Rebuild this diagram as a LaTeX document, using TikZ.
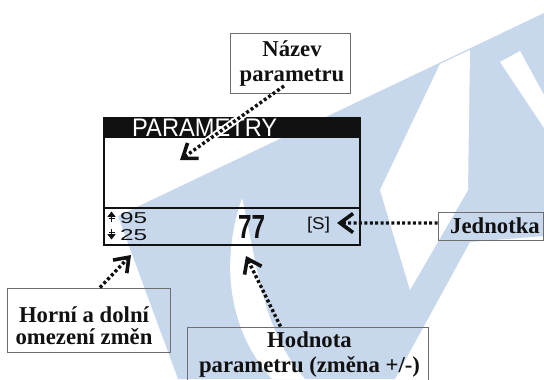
\documentclass[tikz,border=0pt]{standalone}
\usepackage{fontspec}
\usepackage{graphicx}
\setmainfont{Liberation Serif}
\newfontfamily\lcdfont{Liberation Sans}
\usetikzlibrary{arrows.meta}
\definecolor{wm}{HTML}{C8D8EC}
\definecolor{frame}{HTML}{6E6E6E}
\definecolor{ink}{HTML}{111111}
\newcommand\lsu{\rule[-5bp]{0pt}{21bp}}
\tikzset{
  boxf/.style={draw=frame, line width=0.9bp, inner sep=0pt},
  lbl/.style={align=center, inner sep=0pt, text=ink,
     font=\fontsize{22.7bp}{25bp}\selectfont\bfseries},
  ptr/.style={draw=ink, line width=3.4bp, dash pattern=on 3bp off 2.4bp,
     -{Straight Barb[length=13bp,width=19bp,line width=3.6bp]}},
  halo/.style={draw=white, line width=7bp},
  lcdtxt/.style={inner sep=0pt, text=ink, font=\lcdfont},
  icon/.style={fill=ink, draw=ink, line width=0.6bp},
  iconline/.style={draw=ink, line width=1.3bp},
}
\begin{document}
\begin{tikzpicture}[x=1bp,y=-1bp]
\useasboundingbox (0,0) rectangle (544,379);
% watermark
\fill[wm] (118,216) -- (544,13) -- (544,236) -- (470,242) -- (395,379) -- (178,379) -- cycle;
\fill[white] (440,64) -- (470,50) -- (468,190) -- (410,290) -- (380,190) -- cycle;
\fill[white] (500,62) -- (520,51) -- (544,95) -- (544,128) -- cycle;
\fill[white] (242,198) .. controls (220,262) and (228,330) .. (272,379) -- (305,379) .. controls (262,330) and (258,268) .. (242,198) -- cycle;
% LCD
\node[fill=ink, minimum width=256bp, minimum height=21bp, inner sep=0pt, anchor=north west] (hdr) at (103,117) {};
\node[draw=ink, line width=2.2bp, minimum width=256bp, minimum height=127bp, inner sep=0pt, anchor=north west] (lcd) at (103,117) {};
\coordinate (sepL) at (103,208);
\coordinate (sepR) at (359,208);
\draw[ink, line width=2bp] (sepL) -- (sepR);
\node[lcdtxt, anchor=base west, text=white] (title) at (132,136.5) {\resizebox{145bp}{17.5bp}{PARAMETRY}};
% up / down limit icons
\fill[icon] (108,216.5) -- (111.5,212) -- (115,216.5) -- cycle;
\draw[iconline] (111.5,216) -- (111.5,222);
\draw[iconline] (108.5,218.8) -- (114.5,218.8);
\fill[icon] (108,234.5) -- (111.5,239) -- (115,234.5) -- cycle;
\draw[iconline] (111.5,229) -- (111.5,235);
\draw[iconline] (108.5,232.2) -- (114.5,232.2);
\node[lcdtxt, anchor=base west] (hi) at (120,223) {\resizebox{27bp}{11bp}{95}};
\node[lcdtxt, anchor=base west] (lo) at (120,240) {\resizebox{27bp}{11bp}{25}};
\node[lcdtxt, anchor=base, font=\lcdfont\bfseries] (val) at (251.5,238) {\resizebox{27bp}{23bp}{77}};
\node[lcdtxt, anchor=base] (unit) at (318.5,229.5) {\resizebox{23bp}{12.4bp}{[S]}};
% label boxes
\node[boxf, minimum width=120bp, minimum height=60bp] (nazev) at (290,63) {};
\node[lbl] (nazevT) at (292,63.7) {\lsu Název\\\lsu parametru};
\node[boxf, minimum width=163bp, minimum height=64bp] (horni) at (88.5,320) {};
\node[lbl, font=\fontsize{22.7bp}{22bp}\selectfont\bfseries] (horniT) at (84,327.5) {\lsu Horní a dolní\\\lsu omezení změn};
\node[boxf, minimum width=241bp, minimum height=54bp] (hodn) at (307.5,354) {};
\node[lbl] (hodnT) at (309.5,354) {\lsu Hodnota\\\lsu parametru (změna +/-)};
\node[boxf, minimum width=105.5bp, minimum height=28bp] (jedn) at (490.75,226) {};
\node[lbl] (jednT) at (495,227.5) {\lsu Jednotka};
% connectors
\coordinate (s1) at (284,86);
\coordinate (t1) at (180,160);
\coordinate (t2) at (131,255);
\coordinate (t3) at (246,256);
\coordinate (t4) at (337,223);
\begin{scope}
\clip (hdr.north west) rectangle (hdr.south east);
\draw[halo] (s1) -- (t1);
\end{scope}
\draw[ptr] (s1) -- (t1);
\draw[ptr] ([xshift=11.5bp]horni.north) -- (t2);
\draw[ptr] ([xshift=-27bp]hodn.north) -- (t3);
\draw[ptr] ([yshift=3bp]jedn.west) -- (t4);
\end{tikzpicture}
\end{document}
